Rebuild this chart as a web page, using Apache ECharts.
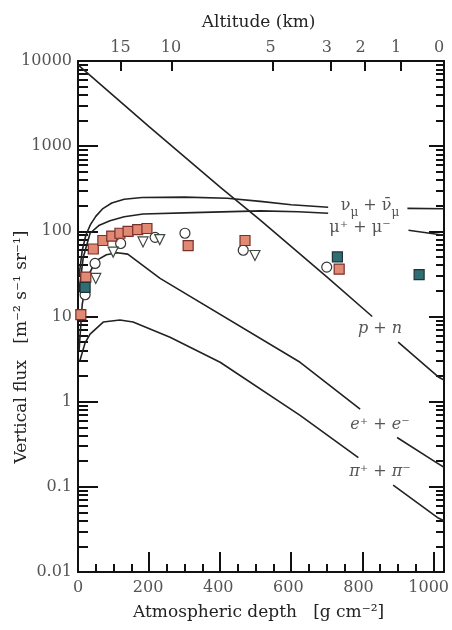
<!DOCTYPE html>
<html>
<head>
<meta charset="utf-8">
<script src="https://cdn.jsdelivr.net/npm/echarts@6/dist/echarts.min.js"></script>
<style>
html, body { margin: 0; padding: 0; background: #fff; }
#chart { width: 452px; height: 630px; }
</style>
</head>
<body>
<div id="chart"></div>
<script>
var myChart = echarts.init(document.getElementById('chart'));

// axis ticks
var depthTicks = [0, 200, 400, 600, 800, 1000];
var altitudeLabels = ['15', '10', '5', '3', '2', '1', '0'];
var altitudeDepths = [121, 265, 549, 710, 806, 907, 1030];

// curves [depth, flux], '-' = gap where the label sits
var pnCurve = [[0, 9000], [200, 1700], [400, 330], [513, 135], [701, 29], [828, 10], [865, '-'], [901, 5.0], [1014, 1.95], [1030, 1.8]];
var numuCurve = [[3, 30], [12, 60], [22, 90], [35, 120], [50, 150], [70, 185], [95, 215], [130, 238], [180, 250], [300, 252], [420, 245], [513, 225], [600, 205], [704, 192], [815, '-'], [927, 186], [1030, 184]];
var muCurve = [[3, 20], [15, 50], [34, 95], [60, 118], [90, 133], [130, 148], [183, 160], [324, 166], [513, 174], [620, 170], [704, 163], [815, '-'], [930, 103], [1030, 90]];
var eCurve = [[3, 4], [12, 14], [25, 28], [50, 45], [80, 53], [110, 56], [140, 54], [231, 28], [625, 2.9], [794, 0.82], [845, '-'], [898, 0.38], [1011, 0.19], [1030, 0.17]];
var piCurve = [[5, 3], [20, 4.9], [34, 6.2], [71, 8.6], [118, 9.1], [155, 8.6], [259, 5.7], [400, 2.9], [625, 0.69], [789, 0.22], [840, '-'], [887, 0.105], [1014, 0.043], [1030, 0.04]];

// measurements of negative muons
var redSquares = [[8, 10.5], [22, 29], [43, 62], [70, 78], [95, 88], [118, 95], [141, 100], [168, 105], [194, 108], [310, 68], [470, 78], [735, 36]];
var openCircles = [[20, 18], [48, 42], [120, 72], [217, 85], [301, 95], [465, 60], [700, 38]];
var openTriangles = [[50, 28], [99, 57], [183, 75], [230, 80], [498, 52]];
var tealSquares = [[20, 22], [730, 50], [960, 31]];

var font = 'DejaVu Serif';
var ink = '#111';
var plotBox = { left: 78, right: 8, top: 61, bottom: 58 };

function box(extra) {
	return echarts.util.extend(extra, plotBox);
}

function line() {
	return { color: ink, width: 2 };
}

// hidden log partner axis, keeps a tick axis where its position says
function ghost(grid) {
	return { gridIndex: grid, type: 'log', min: 1, max: 10, show: false, splitLine: { show: false } };
}

function curve(data) {
	return {
		type: 'line',
		data: data,
		symbol: 'none',
		connectNulls: false,
		lineStyle: { color: '#222', width: 1.6 },
		z: 2
	};
}

function points(data, symbol, fill, border, rotate) {
	return {
		type: 'scatter',
		data: data,
		symbol: symbol,
		symbolSize: 10,
		symbolRotate: rotate || 0,
		itemStyle: { color: fill, borderColor: border, borderWidth: 1.2, opacity: 1 },
		z: 3
	};
}

myChart.setOption({
	animation: false,
	// 0 data, 1 labels, 2 right ticks, 3 left ticks, 4 bottom ticks, 5 top ticks
	grid: [
		box({ show: false }), box({ show: false }), box({ show: false }),
		box({ show: false }), box({ show: false }), box({ show: false })
	],
	xAxis: [
		{ gridIndex: 0, type: 'value', min: 0, max: 1030, show: false, splitLine: { show: false } },
		{
			gridIndex: 1, type: 'value', min: 0, max: 1030, position: 'bottom',
			axisLine: { show: false }, axisTick: { show: false },
			axisLabel: {
				customValues: depthTicks, color: '#555', fontFamily: font, fontSize: 16, margin: 8,
				formatter: function (v) { return String(v); }
			},
			splitLine: { show: false },
			name: 'Atmospheric depth   [g cm\u207B\u00B2]',
			nameLocation: 'middle', nameGap: 32,
			nameTextStyle: { color: '#222', fontFamily: font, fontSize: 17 }
		},
		{
			gridIndex: 1, type: 'value', min: 0, max: 1030, position: 'top',
			axisLine: { show: false }, axisTick: { show: false },
			axisLabel: {
				customValues: altitudeDepths, color: '#555', fontFamily: font, fontSize: 16, margin: 5,
				formatter: function (v) { return altitudeLabels[altitudeDepths.indexOf(v)]; }
			},
			splitLine: { show: false },
			name: 'Altitude (km)',
			nameLocation: 'middle', nameGap: 30,
			nameTextStyle: { color: '#222', fontFamily: font, fontSize: 17 }
		},
		ghost(2),
		ghost(3),
		{
			gridIndex: 4, type: 'value', min: 0, max: 1030, interval: 200, position: 'bottom',
			axisLine: { show: true, lineStyle: line() },
			axisTick: { show: true, inside: true, length: 20, lineStyle: line() },
			minorTick: { show: true, splitNumber: 4, length: 8, lineStyle: line() },
			axisLabel: { show: false },
			splitLine: { show: false }
		},
		{
			gridIndex: 5, type: 'value', min: 0, max: 1030, position: 'top',
			axisLine: { show: true, lineStyle: line() },
			axisTick: { show: true, inside: true, length: 10, customValues: altitudeDepths, lineStyle: line() },
			axisLabel: { show: false },
			splitLine: { show: false }
		}
	],
	yAxis: [
		{ gridIndex: 0, type: 'log', logBase: 10, min: 0.01, max: 10000, show: false, splitLine: { show: false } },
		{
			gridIndex: 1, type: 'log', logBase: 10, min: 0.01, max: 10000, position: 'left',
			axisLine: { show: false }, axisTick: { show: false },
			axisLabel: {
				color: '#555', fontFamily: font, fontSize: 16, margin: 6,
				formatter: function (v) { return String(+v.toPrecision(4)); }
			},
			splitLine: { show: false }
		},
		{
			gridIndex: 2, type: 'log', logBase: 10, min: 0.01, max: 10000, position: 'right',
			axisLine: { show: true, lineStyle: line() },
			axisTick: { show: true, inside: true, length: 15, lineStyle: line() },
			minorTick: { show: true, splitNumber: 9, length: 8, lineStyle: line() },
			axisLabel: { show: false },
			splitLine: { show: false },
			minorSplitLine: { show: false }
		},
		{
			gridIndex: 3, type: 'log', logBase: 10, min: 0.01, max: 10000, position: 'left',
			axisLine: { show: true, lineStyle: line() },
			axisTick: { show: true, inside: true, length: 20, lineStyle: line() },
			minorTick: { show: true, splitNumber: 9, length: 10, lineStyle: line() },
			axisLabel: { show: false },
			splitLine: { show: false },
			minorSplitLine: { show: false }
		},
		{ gridIndex: 4, type: 'log', min: 1, max: 10, show: false, splitLine: { show: false } },
		{ gridIndex: 5, type: 'log', min: 1, max: 10, show: false, splitLine: { show: false } }
	],
	graphic: [
		{
			type: 'text', x: 22, y: 347, rotation: Math.PI / 2,
			style: {
				text: 'Vertical flux   [m\u207B\u00B2 s\u207B\u00B9 sr\u207B\u00B9]',
				fill: '#222', font: '17px "DejaVu Serif"', align: 'center', verticalAlign: 'middle'
			}
		},
		{
			type: 'text', x: 370, y: 206,
			style: {
				text: '{a|\u03BD}{b|\u03BC}{a| + \u03BD\u0304}{b|\u03BC}',
				align: 'center', verticalAlign: 'middle',
				rich: {
					a: { fill: '#555', fontFamily: font, fontSize: 16, lineHeight: 26, verticalAlign: 'middle' },
					b: { fill: '#555', fontFamily: font, fontSize: 12, lineHeight: 26, verticalAlign: 'bottom' }
				}
			}
		},
		{
			type: 'text', x: 360, y: 228,
			style: { text: '\u03BC\u207A + \u03BC\u207B', fill: '#555', font: '16px "DejaVu Serif"', align: 'center', verticalAlign: 'middle' }
		},
		{
			type: 'text', x: 380, y: 329,
			style: { text: 'p + n', fill: '#555', font: 'italic 16px "DejaVu Serif"', align: 'center', verticalAlign: 'middle' }
		},
		{
			type: 'text', x: 380, y: 425,
			style: { text: 'e\u207A + e\u207B', fill: '#555', font: 'italic 16px "DejaVu Serif"', align: 'center', verticalAlign: 'middle' }
		},
		{
			type: 'text', x: 380, y: 472,
			style: { text: '\u03C0\u207A + \u03C0\u207B', fill: '#555', font: 'italic 16px "DejaVu Serif"', align: 'center', verticalAlign: 'middle' }
		}
	],
	series: [
		curve(pnCurve),
		curve(numuCurve),
		curve(muCurve),
		curve(eCurve),
		curve(piCurve),
		points(openCircles, 'circle', '#fff', '#333'),
		points(openTriangles, 'triangle', '#fff', '#3d4a3d', 180),
		points(redSquares, 'rect', '#e08a74', '#7a2e2a'),
		points(tealSquares, 'rect', '#2f6e73', '#1d3536')
	]
});

window.addEventListener('resize', function () {
	myChart.resize();
});
</script>
</body>
</html>
